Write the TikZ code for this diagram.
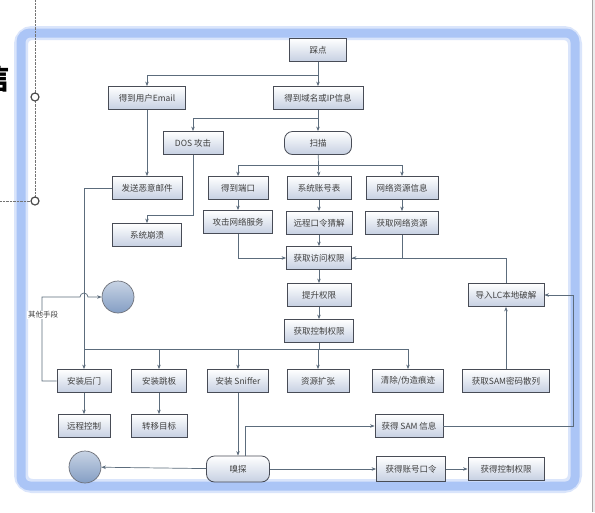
\documentclass[tikz,border=0pt]{standalone}
\usepackage{fontspec}
\setmainfont{Noto Sans CJK SC}
\usetikzlibrary{arrows.meta}
\definecolor{boxline}{RGB}{72,76,86}
\definecolor{boxfill}{RGB}{198,208,226}
\definecolor{linec}{RGB}{92,108,124}
\definecolor{ballc}{RGB}{132,158,196}
\definecolor{frameblue}{RGB}{150,182,244}

\begin{document}
\begin{tikzpicture}[x=1pt,y=-1pt,
	box/.style={draw=boxline,line width=.8pt,top color=white,bottom color=boxfill,
		minimum height=23pt,inner sep=1pt,text=black!75,font=\fontsize{8.5}{10}\selectfont},
	rbox/.style={box,rounded corners=8pt},
	ball/.style={circle,draw=boxline!80,line width=.7pt,top color=ballc!45,bottom color=ballc,minimum size=32pt},
	flow/.style={draw=linec,line width=.7pt,-{Stealth[length=4.5pt,width=3.5pt]}},
	plain/.style={draw=linec,line width=.7pt}]
	\useasboundingbox (0,0) rectangle (595,512);
	\fill[white] (0,0) rectangle (595,512);
	\fill[black!7] (592,0) rectangle (595,512);
	\draw[black!35] (592,0) -- (592,512);
	
	% frame
	\draw[frameblue!35,line width=14pt,rounded corners=11pt] (21,33) rectangle (575,486);
	\draw[frameblue!80,line width=9pt,rounded corners=9pt] (21,33) rectangle (575,486);
	
	% cut off title and handles
	\node[font=\fontsize{30}{30}\selectfont\bfseries,text=black] at (-5,78) {信};
	\draw[black!55,densely dotted] (35,0) -- (35,201);
	\draw[black!55,densely dotted] (0,201) -- (35,201);
	\filldraw[fill=white,draw=black!70,line width=1.2pt] (35,97) circle (4);
	\filldraw[fill=white,draw=black!70,line width=1.2pt] (35,201) circle (4);
	
	\node[box,minimum width=57pt] (cd) at (318,50) {踩点};
	\node[box,minimum width=77pt] (em) at (147,98) {得到用户Email};
	\node[box,minimum width=90pt] (dn) at (318,98) {得到域名或IP信息};
	\node[box,minimum width=60pt] (dos) at (193,143) {DOS 攻击};
	\node[rbox,minimum width=67pt] (sm) at (318,143) {扫描};
	\node[box,minimum width=70pt] (fs) at (147,188) {发送恶意邮件};
	\node[box,minimum width=69pt] (bk) at (147,235) {系统崩溃};
	\node[box,minimum width=60pt] (dk) at (238,188) {得到端口};
	\node[box,minimum width=64pt] (zh) at (319,188) {系统账号表};
	\node[box,minimum width=72pt] (wx) at (402,188) {网络资源信息};
	\node[box,minimum width=69pt] (gj) at (238,222) {攻击网络服务};
	\node[box,minimum width=66pt] (kl) at (319,223) {远程口令猜解};
	\node[box,minimum width=73pt] (hq) at (402,223) {获取网络资源};
	\node[box,minimum width=65pt] (fw) at (319,258) {获取访问权限};
	\node[box,minimum width=64pt] (ts) at (319,295) {提升权限};
	\node[box,minimum width=69pt] (kz) at (319,331) {获取控制权限};
	\node[box,minimum width=76pt] (lc) at (506,295) {导入LC本地破解};
	\node[ball] (c1) at (118,297) {};
	
	\node[box,minimum width=54pt] (hm) at (84,381) {安装后门};
	\node[box,minimum width=55pt] (tb) at (159,381) {安装跳板};
	\node[box,minimum width=61pt] (sf) at (238,381) {安装 Sniffer};
	\node[box,minimum width=62pt] (kzh) at (318,381) {资源扩张};
	\node[box,minimum width=71pt] (qc) at (408,381) {清除/伪造痕迹};
	\node[box,minimum width=87pt] (hs) at (506,381) {获取SAM密码散列};
	\node[box,minimum width=52pt] (yc) at (84,426) {远程控制};
	\node[box,minimum width=56pt] (zy) at (159,426) {转移目标};
	\node[box,minimum width=68pt] (sam) at (409,426) {获得 SAM 信息};
	\node[ball] (c2) at (85,467) {};
	\node[rbox,minimum width=63pt,minimum height=26pt] (xt) at (238,469) {嗅探};
	\node[box,minimum width=69pt,minimum height=25pt] (zk) at (411,469) {获得账号口令};
	\node[box,minimum width=76pt] (kq) at (506,469) {获得控制权限};
	
	\draw[flow] (cd) -- (dn);
	\draw[flow] (cd.south |- 0,75) -| (em.north);
	\draw[flow] (dn) -- (sm);
	\draw[flow] (dn.south |- 0,118) -| (dos.north);
	\draw[flow] (em) -- (fs);
	\draw[flow] (dos.south) -- (dos.south |- 0,215) -| (bk.north);
	\draw[flow] (sm) -- (zh);
	\draw[flow] (sm.south |- 0,165) -| (dk.north);
	\draw[flow] (sm.south |- 0,165) -| (wx.north);
	\draw[flow] (dk) -- (gj);
	\draw[flow] (zh) -- (kl);
	\draw[flow] (wx) -- (hq);
	\draw[flow] (gj.south) |- (fw.west);
	\draw[flow] (kl) -- (fw);
	\draw[flow] (hq.south) |- (fw.east);
	\draw[plain] (lc.north) |- (fw.east);
	\draw[flow] (fw) -- (ts);
	\draw[flow] (ts) -- (kz);
	
	\draw[plain] (kz.south) -- (kz.south |- 0,349);
	\draw[plain] (hm.north |- 0,349) -- (qc.north |- 0,349);
	\foreach \n in {tb,sf,kzh,qc}
		\draw[flow] (\n.north |- 0,349) -- (\n.north);
	\draw[flow] (fs.west) -| (hm.north);
	\draw[flow] (hm.west) -- (42,381) -- (42,297) -- (80,297) arc (180:360:4) -- (c1.west);
	\node[fill=white,inner sep=1pt,text=black!75,font=\fontsize{7.5}{9}\selectfont] (qt) at (43,315) {其他手段};
	\draw[flow] (hm) -- (yc);
	\draw[flow] (tb) -- (zy);
	
	\draw[flow] (sf) -- (xt);
	\draw[flow] (xt) -- (c2);
	\draw[flow] ([xshift=7pt]xt.north) |- (sam.west);
	\draw[flow] (xt) -- (zk);
	\draw[flow] (zk) -- (kq);
	\coordinate (rt) at (573,295);
	\draw[flow] (sam.east) -| (rt) -- (lc.east);
	\draw[flow] (hs) -- (lc);
\end{tikzpicture}
\end{document}
